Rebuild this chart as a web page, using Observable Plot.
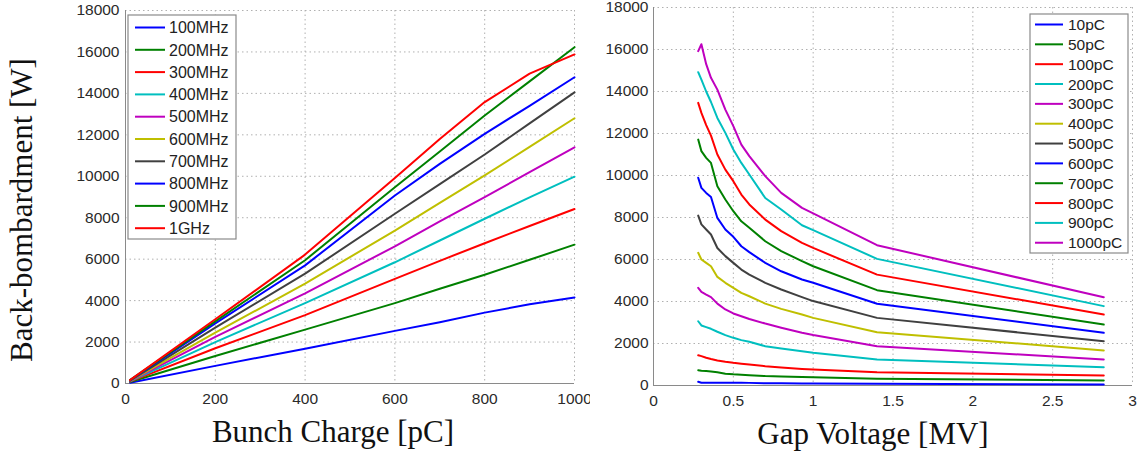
<!DOCTYPE html>
<html><head><meta charset="utf-8">
<script src="https://cdn.jsdelivr.net/npm/d3@7"></script>
<script src="https://cdn.jsdelivr.net/npm/@observablehq/plot@0.6"></script>
<style>
body{margin:0;background:#fff;}
#wrap{display:flex;width:1144px;height:461px;background:#fff;}
svg{display:block}
</style></head><body><div id="wrap"></div>
<script>
// ---- Left panel data: back-bombardment vs bunch charge, per RF frequency
const chargePC = [10, 200, 400, 600, 700, 800, 900, 1000];
const freqLabels = ["100MHz","200MHz","300MHz","400MHz","500MHz","600MHz","700MHz","800MHz","900MHz","1GHz"];
const f100  = [40, 850, 1680, 2540, 2960, 3420, 3820, 4150];
const f200  = [70, 1330, 2600, 3880, 4570, 5250, 5970, 6700];
const f300  = [90, 1700, 3300, 5050, 5920, 6770, 7600, 8420];
const f400  = [100, 2000, 3880, 5850, 6900, 7950, 8980, 9980];
const f500  = [115, 2250, 4350, 6620, 7820, 8990, 10200, 11400];
const f600  = [125, 2450, 4820, 7380, 8720, 10040, 11420, 12800];
const f700  = [140, 2700, 5300, 8190, 9620, 11050, 12550, 14050];
const f800  = [150, 2900, 5700, 9070, 10600, 12050, 13400, 14780];
const f900  = [160, 3000, 5950, 9470, 11200, 12930, 14580, 16230];
const f1000 = [165, 3100, 6220, 9920, 11800, 13580, 14950, 15880];
const freqSeries = [f100, f200, f300, f400, f500, f600, f700, f800, f900, f1000];

// ---- Right panel data: back-bombardment vs gap voltage, per bunch charge
const gapMV = [0.28, 0.30, 0.33, 0.36, 0.40, 0.45, 0.50, 0.55, 0.60, 0.70, 0.80, 0.93, 1.0, 1.40, 2.82];
const chargeLabels = ["10pC","50pC","100pC","200pC","300pC","400pC","500pC","600pC","700pC","800pC","900pC","1000pC"];
const q10   = [175, 130, 130, 130, 130, 130, 130, 130, 125, 110, 105, 100, 95, 80, 50];
const q50   = [730, 700, 690, 670, 630, 560, 530, 510, 490, 450, 430, 400, 390, 320, 240];
const q100  = [1440, 1400, 1320, 1260, 1190, 1130, 1080, 1040, 1000, 920, 860, 790, 760, 630, 480];
const q200  = [3060, 2860, 2780, 2700, 2560, 2400, 2270, 2160, 2080, 1870, 1760, 1630, 1560, 1240, 870];
const q300  = [4650, 4460, 4330, 4210, 3900, 3620, 3430, 3300, 3170, 2950, 2750, 2510, 2400, 1870, 1240];
const q400  = [6320, 6000, 5840, 5680, 5170, 4890, 4650, 4410, 4250, 3900, 3650, 3380, 3220, 2540, 1670];
const q500  = [8090, 7670, 7430, 7190, 6550, 6160, 5840, 5520, 5280, 4890, 4570, 4210, 4020, 3220, 2110];
const q600  = [9890, 9410, 9170, 8980, 7980, 7430, 7080, 6630, 6350, 5840, 5440, 5050, 4890, 3890, 2510];
const q700  = [11710, 11160, 10840, 10600, 9490, 8860, 8300, 7820, 7510, 6870, 6400, 5920, 5680, 4540, 2900];
const q800  = [13460, 12980, 12400, 11900, 11000, 10280, 9730, 9090, 8620, 7900, 7350, 6790, 6550, 5280, 3380];
const q900  = [14920, 14570, 14000, 13500, 12740, 12030, 11240, 10600, 10050, 8930, 8380, 7630, 7400, 6030, 3780];
const q1000 = [15920, 16250, 15300, 14650, 14090, 13140, 12350, 11470, 10920, 9970, 9170, 8460, 8200, 6680, 4200];
const chargeSeries = [q10, q50, q100, q200, q300, q400, q500, q600, q700, q800, q900, q1000];

// ---- ticks
const xTicksLeft = [0, 200, 400, 600, 800, 1000];
const xTicksRight = [0, 0.5, 1, 1.5, 2, 2.5, 3];
const yTicks = [0, 2000, 4000, 6000, 8000, 10000, 12000, 14000, 16000, 18000];

const palette = ["#0000ff", "#008000", "#ff0000", "#00bfbf", "#bf00bf", "#bfbf00", "#404040"];
const cycle = n => Array.from({length: n}, (_, i) => palette[i % palette.length]);

const tidy = (xs, labels, series) =>
  labels.flatMap((s, i) => xs.map((x, j) => ({x, y: series[i][j], s})));

const leftData = tidy(chargePC, freqLabels, freqSeries);
const rightData = tidy(gapMV, chargeLabels, chargeSeries);

const sansFont = "'Liberation Sans', Arial, Helvetica, sans-serif";
const serifFont = "'Liberation Serif', 'Times New Roman', serif";
const gridStyle = {stroke: "#b0b0b0", strokeOpacity: 1, strokeDasharray: "1.5,3"};

function panel({width, marginLeft, marginRight, marginTop, marginBottom, xDomain, xTicks, xFmt, data, labels, xLabel, xLabelDx, yLabel, yPad}) {
  const marks = [
    Plot.gridX(xTicks, gridStyle),
    Plot.gridY(yTicks, gridStyle),
    Plot.ruleX([xDomain[0]], {stroke: "#8a8a8a"}),
    Plot.ruleY([0], {stroke: "#8a8a8a"}),
    Plot.axisX(xTicks, {tickSize: 0, tickPadding: 9, label: null, tickFormat: xFmt}),
    Plot.axisY(yTicks, {tickSize: 0, tickPadding: yPad, label: null, tickFormat: d => String(d)}),
    Plot.line(data, {x: "x", y: "y", z: "s", stroke: "s", strokeWidth: 2}),
    Plot.text([xLabel], {text: d => d, frameAnchor: "bottom", dy: 58, dx: xLabelDx, fontSize: 31, fontFamily: serifFont, fill: "#111"})
  ];
  if (yLabel) marks.push(Plot.text([yLabel], {text: d => d, frameAnchor: "left", textAnchor: "middle", rotate: -90, dx: -103, dy: 13, fontSize: 31, fontFamily: serifFont, fill: "#111"}));
  return Plot.plot({
    width, height: 461, marginLeft, marginRight, marginTop, marginBottom,
    style: {fontFamily: sansFont, fontSize: "15.5px", color: "#2a2a2a", background: "#fff", overflow: "visible"},
    x: {domain: xDomain},
    y: {domain: [0, 18000]},
    color: {domain: labels, range: cycle(labels.length)},
    marks
  });
}

function legend(svg, labels, o) {
  const g = d3.select(svg).append("g").attr("text-anchor", "start");
  g.append("rect").attr("x", o.x).attr("y", o.y).attr("width", o.w).attr("height", o.h)
    .attr("fill", "#fff").attr("stroke", "#8a8a8a").attr("stroke-width", 1.2);
  const colors = cycle(labels.length);
  labels.forEach((lab, i) => {
    const cy = o.row0 + i * o.step;
    g.append("line").attr("x1", o.l1).attr("x2", o.l2).attr("y1", cy).attr("y2", cy)
      .attr("stroke", colors[i]).attr("stroke-width", 2);
    g.append("text").attr("x", o.tx).attr("y", cy).attr("dy", "0.36em").attr("text-anchor", "start")
      .attr("font-family", sansFont).attr("font-size", o.fs).attr("fill", "#222").text(lab);
  });
}

const left = panel({width: 590, marginLeft: 125, marginRight: 16, marginTop: 10, marginBottom: 78,
  xDomain: [0, 1000], xTicks: xTicksLeft, xFmt: d => String(d), data: leftData, labels: freqLabels,
  xLabel: "Bunch Charge [pC]", xLabelDx: -17, yLabel: "Back-bombardment [W]", yPad: 6});
legend(left, freqLabels, {x: 128, y: 15, w: 108, h: 224, row0: 27.5, step: 22.3, l1: 135, l2: 165, tx: 169, fs: 16});

const right = panel({width: 554, marginLeft: 63, marginRight: 12, marginTop: 7, marginBottom: 76,
  xDomain: [0, 3], xTicks: xTicksRight, xFmt: d => String(d), data: rightData, labels: chargeLabels,
  xLabel: "Gap Voltage [MV]", xLabelDx: -20, yLabel: null, yPad: 5});
legend(right, chargeLabels, {x: 440, y: 14, w: 98, h: 239, row0: 24.5, step: 19.84, l1: 445, l2: 473, tx: 478, fs: 15.5});

document.getElementById("wrap").append(left, right);
</script></body></html>
